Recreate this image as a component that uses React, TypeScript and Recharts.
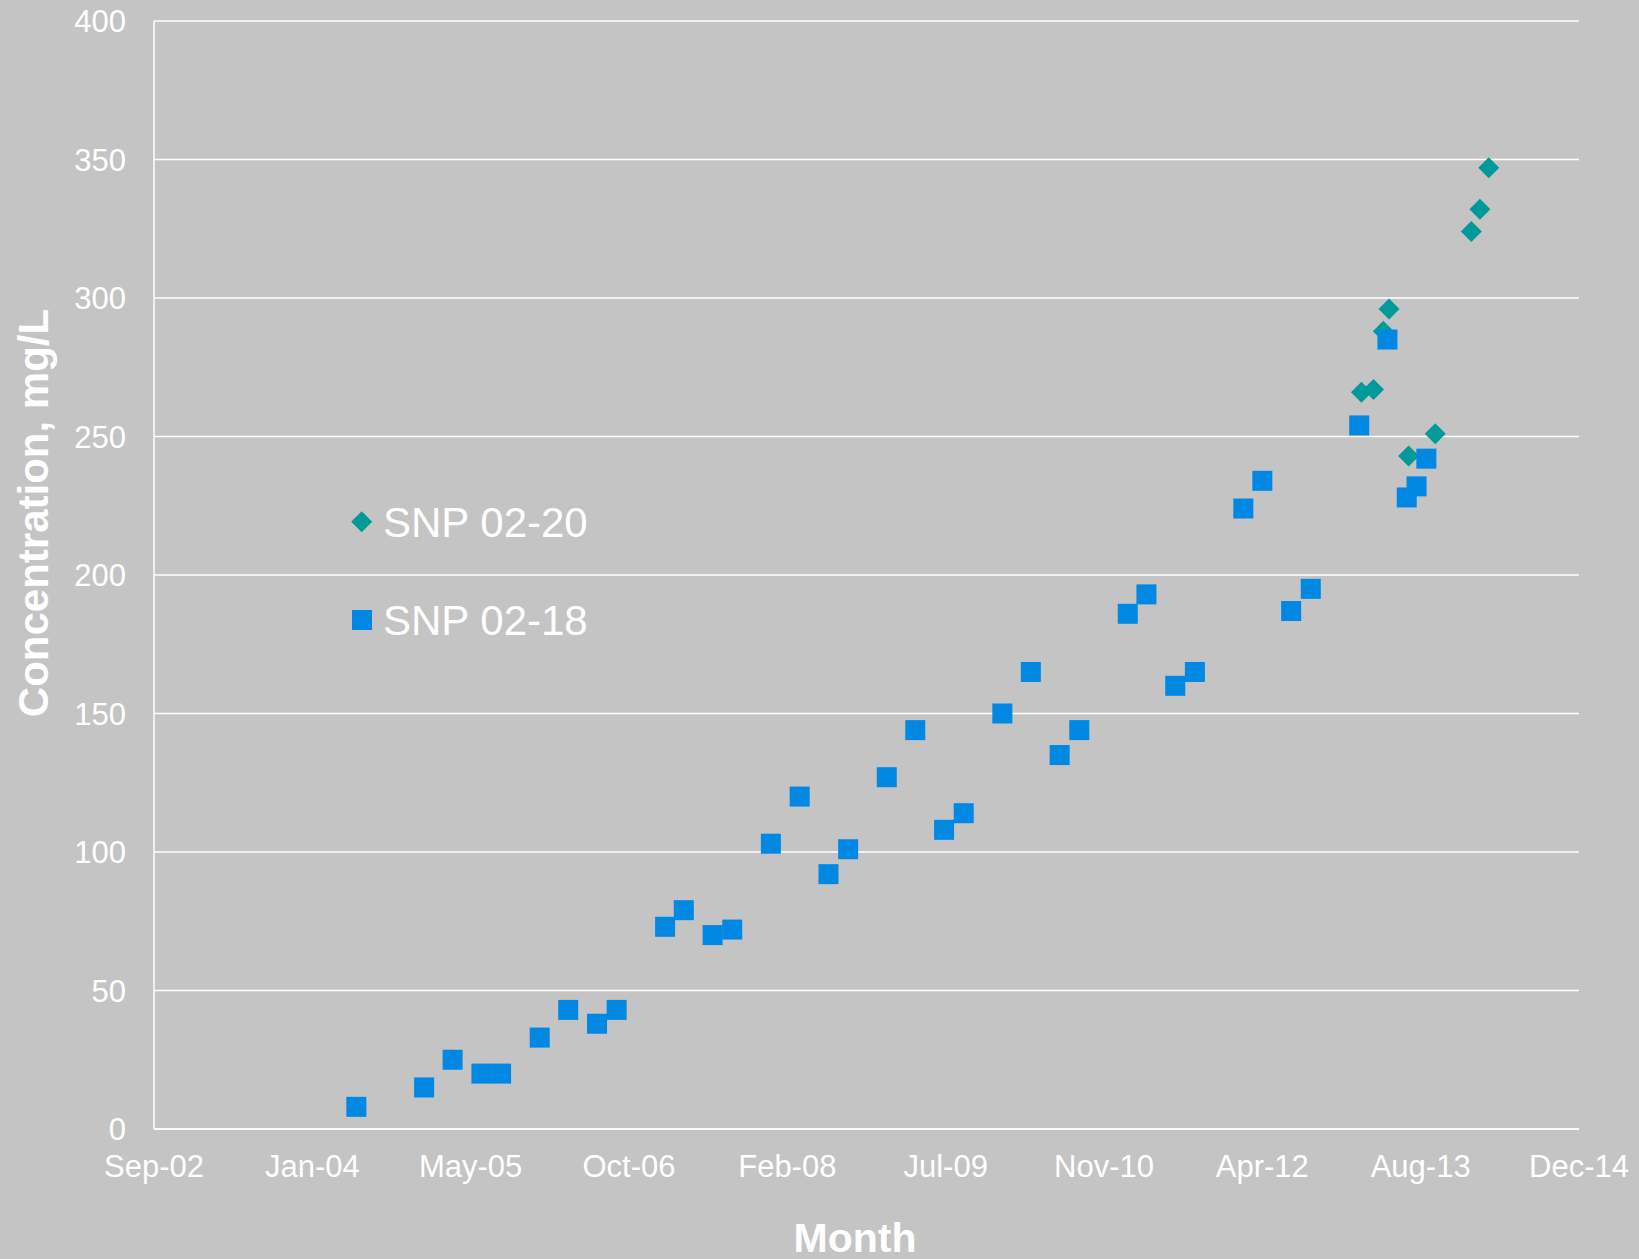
import React from "react";
import { ScatterChart, Scatter, XAxis, YAxis, CartesianGrid, Legend } from "recharts";

// SNP 02-18 (blue squares)
const snp0218Dates = [
  "2004-06-01", "2005-01-01", "2005-04-01", "2005-07-01", "2005-09-01",
  "2006-01-01", "2006-04-01", "2006-07-01", "2006-09-01",
  "2007-02-01", "2007-04-01", "2007-07-01", "2007-09-01",
  "2008-01-01", "2008-04-01", "2008-07-01", "2008-09-01",
  "2009-01-01", "2009-04-01", "2009-07-01", "2009-09-01",
  "2010-01-01", "2010-04-01", "2010-07-01", "2010-09-01",
  "2011-02-01", "2011-04-01", "2011-07-01", "2011-09-01",
  "2012-02-01", "2012-04-01", "2012-07-01", "2012-09-01",
  "2013-02-01", "2013-05-01", "2013-07-01", "2013-08-01", "2013-09-01",
];
const snp0218Values = [
  8, 15, 25, 20, 20,
  33, 43, 38, 43,
  73, 79, 70, 72,
  103, 120, 92, 101,
  127, 144, 108, 114,
  150, 165, 135, 144,
  186, 193, 160, 165,
  224, 234, 187, 195,
  254, 285, 228, 232, 242,
];

// SNP 02-20 (teal diamonds)
const snp0220Dates = [
  "2013-02-08", "2013-03-18", "2013-04-18", "2013-05-06", "2013-07-07",
  "2013-09-29", "2014-01-21", "2014-02-17", "2014-03-17",
];
const snp0220Values = [266, 267, 288, 296, 243, 251, 324, 332, 347];

// X axis (Excel-style date axis, 500-day major unit)
const xTickDates = [
  "2002-09-01", "2004-01-14", "2005-05-28", "2006-10-10", "2008-02-22",
  "2009-07-06", "2010-11-18", "2012-04-01", "2013-08-14", "2014-12-27",
];
const xTickLabels = [
  "Sep-02", "Jan-04", "May-05", "Oct-06", "Feb-08",
  "Jul-09", "Nov-10", "Apr-12", "Aug-13", "Dec-14",
];
const yTicks = [0, 50, 100, 150, 200, 250, 300, 350, 400];

const BG = "#C4C4C4";
const BLUE = "#0088E3";
const TEAL = "#009A99";
const FONT = "'Liberation Sans', Arial, sans-serif";

const toTs = (s: string) => {
  const [y, m, d] = s.split("-").map(Number);
  return Date.UTC(y, m - 1, d);
};

const data0218 = snp0218Dates.map((d, i) => ({ x: toTs(d), y: snp0218Values[i] }));
const data0220 = snp0220Dates.map((d, i) => ({ x: toTs(d), y: snp0220Values[i] }));
const xTicks = xTickDates.map(toTs);
const labelByTs: Record<number, string> = {};
xTicks.forEach((t, i) => (labelByTs[t] = xTickLabels[i]));

const SquareShape = (props: any) => {
  const { cx, cy } = props;
  if (cx == null || cy == null) return null;
  const s = 20;
  return <rect x={cx - s / 2} y={cy - s / 2} width={s} height={s} fill={BLUE} />;
};

const DiamondShape = (props: any) => {
  const { cx, cy } = props;
  if (cx == null || cy == null) return null;
  const h = 10.5;
  return (
    <polygon
      points={`${cx},${cy - h} ${cx + h},${cy} ${cx},${cy + h} ${cx - h},${cy}`}
      fill={TEAL}
    />
  );
};

const renderLegend = () => (
  <svg width={300} height={160} style={{ display: "block" }}>
    <polygon points="21.7,21.2 32.2,31.7 21.7,42.2 11.2,31.7" fill={TEAL} />
    <text x={43} y={46.5} fill="#FFFFFF" fontSize={42} fontFamily={FONT}>
      SNP 02-20
    </text>
    <rect x={12} y={120} width={20} height={20} fill={BLUE} />
    <text x={43} y={145} fill="#FFFFFF" fontSize={42} fontFamily={FONT}>
      SNP 02-18
    </text>
  </svg>
);

export default function App() {
  return (
    <div
      style={{
        position: "absolute",
        left: 0,
        top: 0,
        width: 1639,
        height: 1259,
        background: BG,
      }}
    >
      <ScatterChart
        width={1639}
        height={1259}
        margin={{ top: 21, right: 60, left: 0, bottom: 0 }}
      >
        <CartesianGrid vertical={false} stroke="#FFFFFF" strokeWidth={1.5} />
        <XAxis
          type="number"
          dataKey="x"
          domain={[xTicks[0], xTicks[xTicks.length - 1]]}
          ticks={xTicks}
          tickFormatter={(v: number) => labelByTs[v] ?? ""}
          height={130}
          axisLine={{ stroke: "#FFFFFF", strokeWidth: 1.5 }}
          tickLine={false}
          tickSize={0}
          tickMargin={26}
          tick={{ fill: "#FFFFFF", fontSize: 31, fontFamily: FONT }}
          interval={0}
          allowDataOverflow
          label={{
            content: () => (
              <text
                x={855}
                y={1252}
                textAnchor="middle"
                fill="#FFFFFF"
                fontSize={41}
                fontWeight="bold"
                fontFamily={FONT}
              >
                Month
              </text>
            ),
          }}
        />
        <YAxis
          type="number"
          dataKey="y"
          domain={[0, 400]}
          ticks={yTicks}
          width={154}
          axisLine={{ stroke: "#FFFFFF", strokeWidth: 1.5 }}
          tickLine={false}
          tickSize={0}
          tickMargin={28}
          tick={{ fill: "#FFFFFF", fontSize: 31, fontFamily: FONT }}
          interval={0}
          allowDataOverflow
          label={{
            content: () => (
              <text
                x={48}
                y={513}
                transform="rotate(-90, 48, 513)"
                textAnchor="middle"
                fill="#FFFFFF"
                fontSize={42}
                fontWeight="bold"
                fontFamily={FONT}
              >
                Concentration, mg/L
              </text>
            ),
          }}
        />
        <Legend
          layout="vertical"
          align="center"
          verticalAlign="middle"
          content={renderLegend}
          wrapperStyle={{ left: 340, top: 490, width: 300, height: 160 }}
        />
        <Scatter
          name="SNP 02-20"
          data={data0220}
          fill={TEAL}
          shape={DiamondShape}
          isAnimationActive={false}
        />
        <Scatter
          name="SNP 02-18"
          data={data0218}
          fill={BLUE}
          shape={SquareShape}
          isAnimationActive={false}
        />
      </ScatterChart>
    </div>
  );
}
